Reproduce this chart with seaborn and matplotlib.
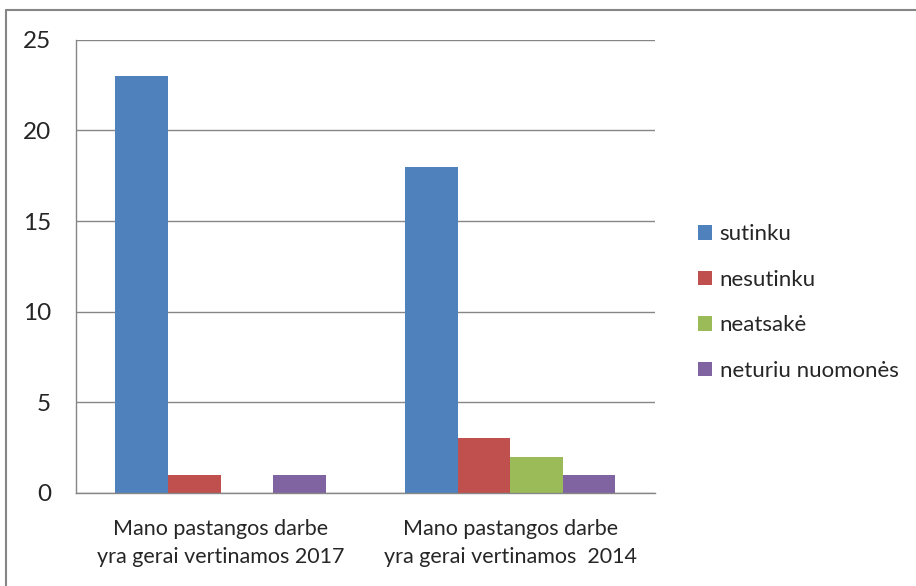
import numpy as np
import pandas as pd
import matplotlib.pyplot as plt
import seaborn as sns
from matplotlib.lines import Line2D

# data
groups = ['Mano pastangos darbe\nyra gerai vertinamos 2017',
          'Mano pastangos darbe\nyra gerai vertinamos  2014']
answers = ['sutinku', 'nesutinku', 'neatsakė', 'neturiu nuomonės']
vals_2017 = [23, 1, 0, 1]
vals_2014 = [18, 3, 2, 1]
colors = ['#4f81bd', '#c0504d', '#9bbb59', '#8064a2']

df = pd.DataFrame({
    'group': [groups[0]] * 4 + [groups[1]] * 4,
    'answer': answers * 2,
    'value': vals_2017 + vals_2014,
})

sns.set_style('white')
plt.rcParams['font.family'] = ['Lato', 'DejaVu Sans']

fig = plt.figure(figsize=(9.16, 5.86), dpi=100)
ax = fig.add_axes([0.083, 0.159, 0.632, 0.773])

sns.barplot(data=df, x='group', y='value', hue='answer', order=groups,
            hue_order=answers, palette=colors, width=4 / 5.5, saturation=1,
            edgecolor='none', ax=ax)

ax.set_xlim(-0.5, 1.5)
ax.set_ylim(0, 25)
ax.set_yticks(range(0, 26, 5))
ax.yaxis.grid(True, color='#868686', lw=1)
ax.set_axisbelow(True)
for s in ['top', 'right']:
    ax.spines[s].set_visible(False)
for s in ['left', 'bottom']:
    ax.spines[s].set_color('#868686')
    ax.spines[s].set_linewidth(1)

ax.set_xticks([-0.5, 0.5, 1.5], minor=True)
ax.tick_params(axis='x', which='major', length=0, pad=19, labelsize=15.5)
ax.tick_params(axis='x', which='minor', length=8, color='#868686', width=1)
ax.tick_params(axis='y', length=8, color='#868686', width=1, pad=10, labelsize=17.5)
for t in ax.get_xticklabels():
    t.set_linespacing(1.5)
ax.set_xlabel('')
ax.set_ylabel('')

handles, labels = ax.get_legend_handles_labels()
ax.legend(handles, labels, loc='center left', bbox_to_anchor=(1.04, 0.42),
          frameon=False, fontsize=16, handlelength=0.62, handleheight=0.62,
          handletextpad=0.35, labelspacing=1.15)

# outer chart border (only top and left edges show)
fig.lines.append(Line2D([6 / 916, 6 / 916], [0, 1 - 9.5 / 586], transform=fig.transFigure,
                        color='#868686', lw=1.5))
fig.lines.append(Line2D([6 / 916, 1], [1 - 9.5 / 586, 1 - 9.5 / 586], transform=fig.transFigure,
                        color='#868686', lw=1.5))

fig.savefig('out.png', dpi=100)
